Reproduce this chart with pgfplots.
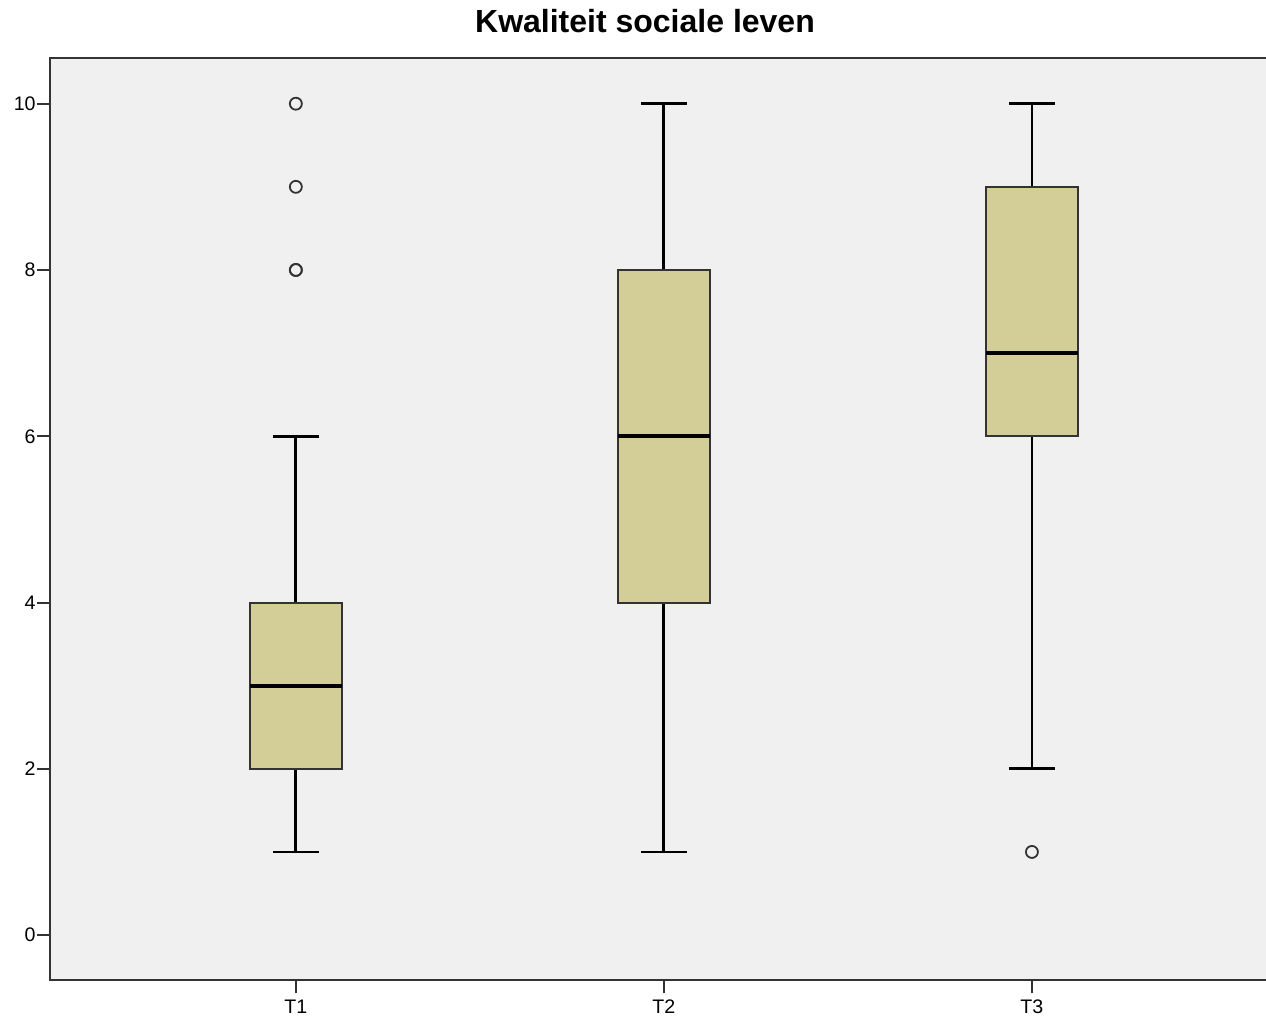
\documentclass[border=0pt]{standalone}
\usepackage{pgfplots}
\pgfplotsset{compat=1.18}
\usepgfplotslibrary{statistics}
\usepackage{fontspec}
\setmainfont{Liberation Sans}
\definecolor{bg}{HTML}{F0F0F0}
\definecolor{boxfill}{HTML}{D3CE97}
\definecolor{framec}{HTML}{333333}
\begin{document}
\begin{tikzpicture}
\useasboundingbox (-25pt,-20pt) rectangle (608pt,490pt);
\begin{axis}[
  at={(0,0)}, anchor=south west,
  scale only axis, width=608pt, height=461pt,
  xmin=0.332, xmax=3.636, ymin=-0.54, ymax=10.55,
  xtick={1,2,3}, xticklabels={T1,T2,T3},
  ytick={0,2,4,6,8,10},
  tick pos=left,
  tick align=outside, major tick length=6.5pt,
  tick style={line width=1pt, color=framec},
  axis line style={draw=none},
  axis background/.style={fill=bg},
  tick label style={font=\fontsize{9.8}{11}\selectfont},
  /pgf/number format/assume math mode=true,
  yticklabel style={inner xsep=0.5pt},
  boxplot/draw direction=y,
  boxplot/box extend=0.25,
  boxplot/whisker extend=0.125,
  boxplot/every box/.style={draw=framec, line width=1pt, fill=boxfill},
  boxplot/every whisker/.style={black, line width=1.4pt},
  boxplot/every median/.style={black, line width=2pt},
  clip=false,
]
\addplot[boxplot prepared={draw position=1, lower whisker=1, lower quartile=2, median=3, upper quartile=4, upper whisker=6},
  mark=o, mark size=3pt, mark options={line width=0.9pt, draw=framec, fill=none}]
  table[row sep=\\, y index=0] {8\\ 8\\ 9\\ 10\\};
\addplot[boxplot prepared={draw position=2, lower whisker=1, lower quartile=4, median=6, upper quartile=8, upper whisker=10}]
  coordinates {};
\addplot[boxplot prepared={draw position=3, lower whisker=2, lower quartile=6, median=7, upper quartile=9, upper whisker=10},
  mark=o, mark size=3pt, mark options={line width=0.9pt, draw=framec, fill=none}]
  table[row sep=\\, y index=0] {1\\};
\draw[framec, line width=1.2pt] (rel axis cs:1,1) -- (rel axis cs:0,1) -- (rel axis cs:0,0) -- (rel axis cs:1,0);
\end{axis}
\node[anchor=base, font=\bfseries\fontsize{16}{18}\selectfont] at (297.5pt,473.5pt) {Kwaliteit sociale leven};
\end{tikzpicture}
\end{document}
